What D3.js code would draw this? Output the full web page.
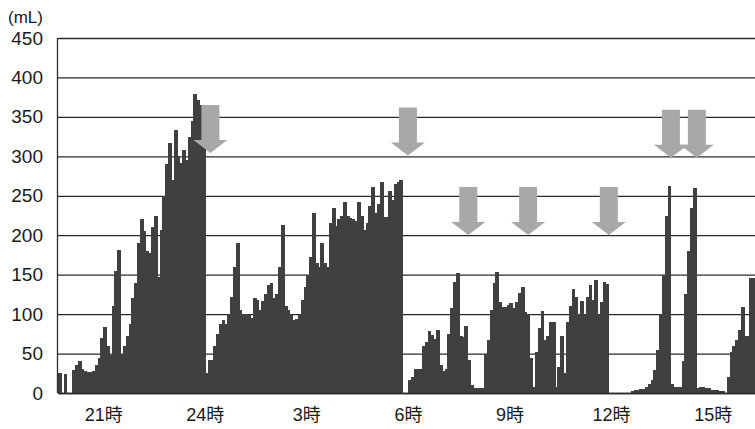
<!DOCTYPE html>
<html lang="ja">

<head>
    <meta charset="UTF-8">
    <title>膀胱内尿量の推移</title>
    <script src="https://d3js.org/d3.v7.min.js"></script>
    <style>
        body { margin: 0; background: #fff; }
        svg text { font-family: "Liberation Sans", Arial, "Noto Sans CJK JP", sans-serif; fill: #1a1a1a; }
    </style>
</head>

<body>
    <div id="chart"></div>

    <script>
        const width = 755;
        const height = 429;

        // measurement every 5 minutes, starting 19:40
        const startHour = 19, startMinute = 40, stepMinutes = 5;

        // bladder volume (mL), one row per hour
        const volumes = [
            25, 0, 24, 0,                                          // 19:40
            0, 29, 35, 40, 31, 28, 27, 26, 28, 36, 45, 70,         // 20時
            84, 60, 48, 110, 155, 181, 50, 60, 72, 88, 120, 140,   // 21時
            190, 220, 205, 180, 178, 210, 224, 147, 207, 250, 290, 317,
            270, 333, 300, 291, 308, 295, 325, 345, 379, 372, 365, 355,
            25, 42, 42, 60, 75, 88, 92, 88, 100, 122, 160, 190,    // 0時
            105, 100, 100, 99, 95, 120, 118, 105, 117, 125, 137, 140,
            120, 125, 160, 213, 110, 105, 99, 92, 94, 100, 118, 135,
            150, 172, 228, 165, 160, 190, 165, 160, 215, 234, 212, 220, // 3時
            225, 242, 225, 222, 220, 218, 242, 225, 207, 215, 237, 261,
            228, 240, 267, 223, 223, 256, 245, 265, 267, 270, 0, 0,
            16, 20, 31, 31, 31, 59, 65, 78, 73, 69, 80, 35,        // 6時
            28, 30, 75, 108, 141, 152, 72, 71, 85, 42, 10, 6,
            6, 6, 6, 50, 67, 105, 139, 154, 115, 109, 109, 112,
            114, 108, 115, 127, 134, 103, 100, 44, 8, 52, 82, 104, // 9時
            67, 72, 90, 90, 8, 33, 72, 25, 90, 110, 132, 122,
            100, 116, 100, 122, 137, 118, 143, 100, 115, 141, 138, 0,
            0, 0, 0, 0, 0, 0, 0, 2, 4, 4, 5, 5,                    // 12時
            8, 12, 16, 29, 55, 100, 150, 225, 262, 12, 8, 8,
            8, 40, 125, 180, 235, 260, 6, 8, 8, 6, 6, 4,
            4, 4, 3, 2, 0, 20, 52, 60, 67, 80, 109, 72,            // 15時
            72, 146, 146
        ];

        const yTicks = [0, 50, 100, 150, 200, 250, 300, 350, 400, 450];
        const xTickHours = [21, 24, 27, 30, 33, 36, 39];   // hours counted from 0時 of the first day
        const xTickLabels = ["21時", "24時", "3時", "6時", "9時", "12時", "15時"];

        // grey arrows: [hour, minute] and top of the arrow (mL)
        const arrowTimes = [[24, 10], [30, 0], [31, 47], [33, 33], [35, 56], [37, 46], [38, 32]];
        const arrowTops = [365, 362, 261, 261, 261, 359, 359];

        const t0 = new Date(2020, 0, 1, startHour, startMinute);
        const toDate = (h, m) => new Date(2020, 0, 1, h, m);
        const barTime = i => new Date(t0.getTime() + i * stepMinutes * 60000);
        const tEnd = barTime(volumes.length);

        const bars = volumes.map((v, i) => ({ i: i, v: v })).filter(d => d.v > 0);

        const xScale = d3.scaleTime()
            .domain([t0, tEnd])
            .range([58, 755]);

        const yScale = d3.scaleLinear()
            .domain([0, 450])
            .range([393, 38]);

        const svg = d3.select("#chart")
            .append("svg")
            .attr("width", width)
            .attr("height", height);

        // gridlines + y labels
        const yAxis = svg.append("g")
            .attr("transform", "translate(58,0)")
            .call(d3.axisLeft(yScale).tickValues(yTicks).tickSizeInner(-(755 - 58)).tickSizeOuter(0).tickPadding(15));
        yAxis.select(".domain").remove();
        yAxis.selectAll("line").attr("stroke", "#2b2b2b").attr("stroke-width", 1.3);
        yAxis.selectAll("text").style("font-size", "19px");

        // bars (overlap by 1px so no seams show between neighbours)
        svg.append("g")
            .attr("shape-rendering", "crispEdges")
            .selectAll("rect")
            .data(bars)
            .join("rect")
            .attr("x", d => xScale(barTime(d.i)))
            .attr("width", d => xScale(barTime(d.i + 1)) - xScale(barTime(d.i)) + 1)
            .attr("y", d => yScale(d.v))
            .attr("height", d => yScale(0) - yScale(d.v))
            .attr("fill", "#404040");

        // left axis line
        svg.append("line")
            .attr("x1", 57.5).attr("x2", 57.5)
            .attr("y1", yScale(450)).attr("y2", yScale(0))
            .attr("stroke", "#2b2b2b").attr("stroke-width", 1.3);

        // x axis labels
        const xAxis = svg.append("g")
            .attr("transform", `translate(0,${yScale(0)})`)
            .call(d3.axisBottom(xScale)
                .tickValues(xTickHours.map(h => toDate(h, 0)))
                .tickFormat((d, i) => xTickLabels[i])
                .tickSize(0)
                .tickPadding(15));
        xAxis.select(".domain").attr("stroke", "#2b2b2b").attr("stroke-width", 1.3);
        xAxis.selectAll("text").style("font-size", "18px");

        // unit label
        svg.append("text")
            .attr("x", 8)
            .attr("y", 23)
            .style("font-size", "17px")
            .text("(mL)");

        // arrows
        const arrowLen = 48, bodyW = 18, headW = 34, headH = 13;
        const arrowPath = d3.path();
        arrowPath.moveTo(-bodyW / 2, 0);
        arrowPath.lineTo(bodyW / 2, 0);
        arrowPath.lineTo(bodyW / 2, arrowLen - headH);
        arrowPath.lineTo(headW / 2, arrowLen - headH);
        arrowPath.lineTo(0, arrowLen);
        arrowPath.lineTo(-headW / 2, arrowLen - headH);
        arrowPath.lineTo(-bodyW / 2, arrowLen - headH);
        arrowPath.closePath();

        svg.append("g")
            .selectAll("path")
            .data(arrowTimes)
            .join("path")
            .attr("transform", (d, i) => `translate(${xScale(toDate(d[0], d[1]))},${yScale(arrowTops[i])})`)
            .attr("d", arrowPath.toString())
            .attr("fill", "#a8a8a8");
    </script>
</body>

</html>
